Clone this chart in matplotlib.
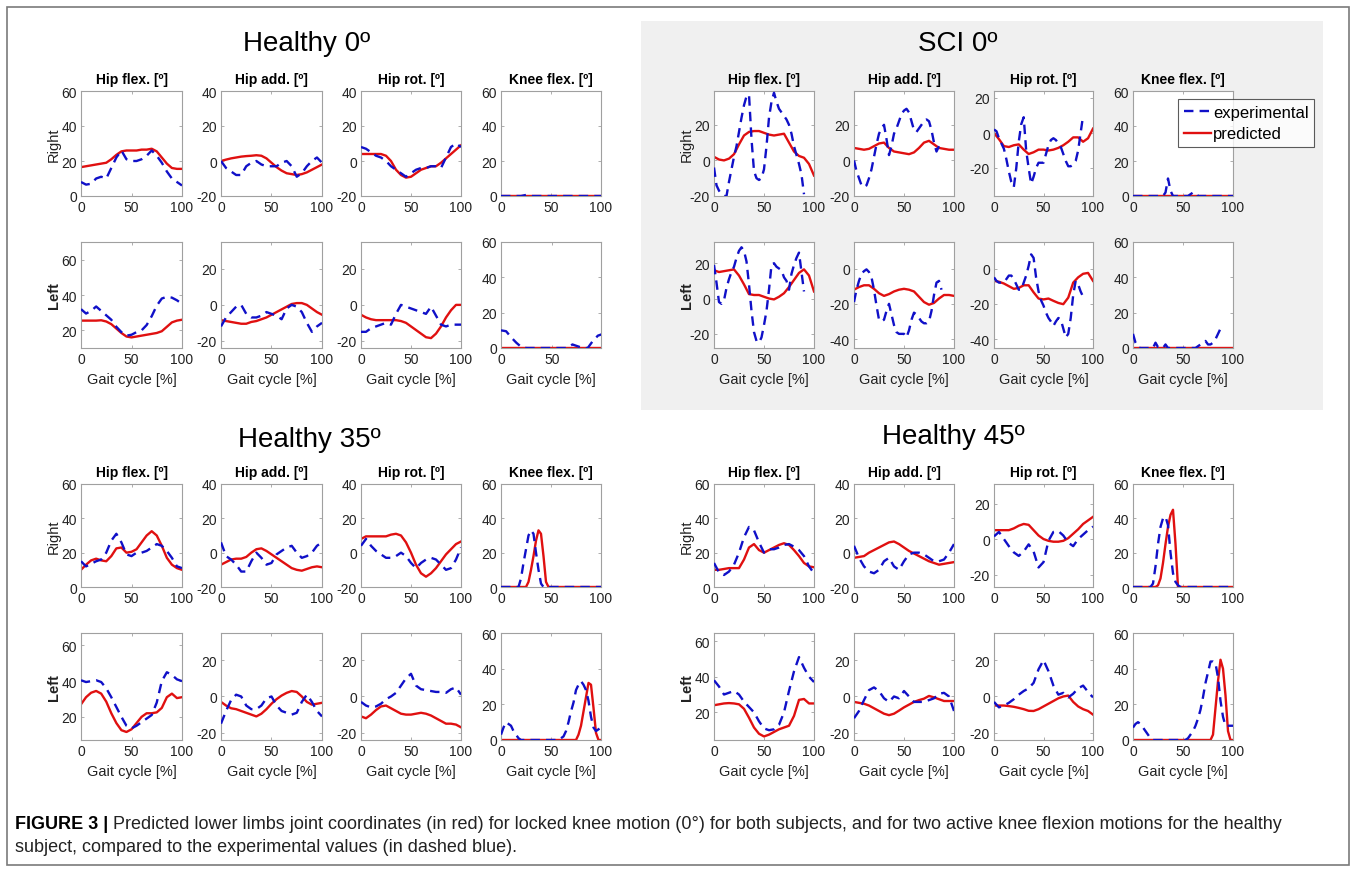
import numpy as np
import matplotlib
matplotlib.use("Agg")
import matplotlib.pyplot as plt
from matplotlib.patches import Rectangle
from matplotlib.ticker import MultipleLocator

plt.rcParams["font.family"] = ["Liberation Sans", "DejaVu Sans"]
plt.rcParams["axes.unicode_minus"] = False

W, H = 1357, 870

# --------------------------------------------------------------------------- #
# Labels
# --------------------------------------------------------------------------- #
JOINTS = ["Hip flex. [\u00ba]", "Hip add. [\u00ba]", "Hip rot. [\u00ba]", "Knee flex. [\u00ba]"]
SIDES = ["Right", "Left"]
PANEL_TITLES = ["Healthy 0\u00ba", "SCI 0\u00ba", "Healthy 35\u00ba", "Healthy 45\u00ba"]
XLABEL = "Gait cycle [%]"
SERIES = ["experimental", "predicted"]
XTICKS = [0, 50, 100]
CAPTION_HEAD = "FIGURE 3 |"
CAPTION_1 = ("Predicted lower limbs joint coordinates (in red) for locked knee motion (0\u00b0) "
             "for both subjects, and for two active knee flexion motions for the healthy")
CAPTION_2 = "subject, compared to the experimental values (in dashed blue)."

# --------------------------------------------------------------------------- #
# Data: joint angle [deg] over gait cycle; 21 values -> every 5 %, 41 -> every 2.5 %
# order in each list: hip flex, hip add, hip rot, knee flex
# --------------------------------------------------------------------------- #
H0_RIGHT_EXP = [
    [8, 6.5, 7, 10, 11, 10, 16, 22, 26, 21, 20, 20, 21, 23, 26, 23, 19, 14, 10, 8, 6],
    [0, -4, -6, -8, -8, -3, -1, 0, -2, -3, -3, -3, -1, 0, -3, -9, -7, -3, 0, 2, -1],
    [8, 7, 5, 3, 2, 0, -3, -5, -7, -9, -7, -5, -4, -4, -3, -3, -4, 2, 8, 10, 8],
    [0, 0, 0, 0, 0, 0.6, 0, 0, 0, 0, 0, 0, 0, 0, 0, 0, 0, 0, 0, 0, 0],
]
H0_RIGHT_PRED = [
    [16.5, 17, 17.5, 18, 18.5, 19, 21, 23.5, 25.5, 26, 26, 26, 26.5, 26.5, 27, 25.5, 22, 18.5, 16, 15.5, 15.5],
    [0, 0.8, 1.5, 2, 2.5, 2.8, 3, 3.3, 3, 1.5, -1, -3.5, -5.5, -7, -7.5, -8, -7.5, -6.5, -5, -3.5, -2],
    [4, 4, 4, 4, 4, 3, 0, -5, -8, -9.5, -9, -7, -5, -4, -3, -3, -1, 1.5, 4, 6.5, 9],
    [0] * 21,
]
H0_LEFT_EXP = [
    [32, 29.5, 31, 33.5, 31, 28.5, 26, 22, 19, 17, 17.5, 19, 20, 23, 28, 34, 38, 39, 38.5, 37, 35],
    [-12, -7, -4, -1, 0, -5, -7, -7, -6, -4, -5, -6, -8, -2, 0, -1, -4, -10, -15, -12, -10],
    [-15, -15, -13, -12, -11, -10, -11, -5, 0, -1, -2, -3, -4, -5, -1, -6, -11, -12, -11, -11, -11],
    [10, 9.5, 6, 3, 0.5, 0, 0, 0, 0, 0, 0, 0, 0, 0, 2, 1, 0, 0, 4, 7, 8],
]
H0_LEFT_PRED = [
    [25.5, 25.5, 25.5, 25.5, 25.7, 25, 23.5, 21, 18.5, 16.5, 16, 16.5, 17, 17.5, 18, 18.5, 19.5, 22, 24.5, 25.5, 26],
    [-8.5, -9, -9.5, -10, -10.5, -10.5, -9.5, -9, -8, -7, -5.5, -4, -2.5, -1, 0.5, 1, 1, 0, -2, -4, -5.5],
    [-5.5, -7, -8, -8.5, -8.5, -8.5, -8.5, -8.5, -9, -10, -12, -14, -16, -18, -18.5, -16, -12, -7, -3, 0, 0],
    [0] * 21,
]

SCI_RIGHT_EXP = [
    [-4, -14, -17, -19, -20, -20, -12, -5, 2, 8, 16, 24, 31, 36, 37, 12, -6, -10, -11, -10,
     -5, 8, 24, 33, 38, 33, 29, 27, 25, 23, 20, 15, 8, 3, -2, -8, -19, None, None, None, None],
    [0, -6, -10, -14, -15, -14, -10, -5, 2, 9, 15, 18, 20, 12, 3, 8, 15, 18, 22, 26,
     28, 29, 27, 22, 17, 16, 18, 20, 22, 23, 22, 17, 10, 5, 8, 11, None, None, None, None, None],
    [2, 1, -3, -6, -9, -15, -22, -28, -31, -20, -5, 5, 9, -10, -20, -29, -25, -20, -17, -17,
     -17, -12, -7, -4, -3, -4, -6, -8, -12, -16, -19, -19, -18, -16, -10, 0, 10, None, None, None, None],
    [0, 0, 0, 0, 0, 0, 0, 0, 0, 0, 0, 0, 0, 2, 10, 3, 0, 0, 0, 0,
     0, 0, 0, 1, 2, 2, 0, 0, 0, 0, 0, 0, 0, 0, 0, 0, 0, 0, 0, 0, 0],
]
SCI_RIGHT_PRED = [
    [2, 0.5, 0, 1, 3.5, 9, 14, 16, 16.5, 16.5, 15.5, 14.5, 14, 14.5, 15, 10, 5, 2.5, 1.5, -2, -8.5],
    [7, 6.5, 6, 6.5, 8, 9.5, 10, 7, 5, 4.5, 4, 3.5, 4.5, 7, 10, 11, 9, 7, 6.5, 6, 6],
    [0, -3.5, -7.5, -8, -7, -6.5, -9.5, -12, -11, -9.5, -9.5, -10, -9.5, -8.5, -7, -5, -2.5, -2.5, -5, -3, 2.5],
    [0] * 21,
]
SCI_LEFT_EXP = [
    [19, 9, -2, -3, -1, 6, 11, 15, 18, 23, 27, 29, 27, 21, 8, -7, -19, -24, -25, -22,
     -15, -7, 5, 19, 20, 18, 17, 16, 12, 10, 5, 14, 19, 23, 26, 15, 4, None, None, None, None],
    [-19, -12, -7, -3, -1.5, -0.5, -2, -5, -12, -21, -29, -30, -29, -24, -20, -26, -32, -36, -37, -37,
     -37, -39, -35, -29, -25, -26, -28, -30, -31, -31, -30, -24, -15, -8, -7, -12, None, None, None, None, None],
    [-5, -7, -8, -8, -8, -6, -4, -4, -6, -9, -12, -12, -8, -4, 1.5, 8, 6, -5, -13, -18,
     -21, -25, -28, -30, -32.5, -30, -28, -29, -34, -39, -37, -28, -15, -7, -9, -13, -16, None, None, None, None],
    [8, 3, 0.5, 0, 0, 0, 0, 0, 0, 3, 0.5, 0, 0, 2, 0, 0, 0, 0, 0, 0,
     0, 0, 0, 0, 0, 0, 1, 2, 3, 4, 2, 2, 3, 5, 8, 11, None, None, None, None, None],
]
SCI_LEFT_PRED = [
    [16, 15, 15.5, 16, 16.5, 13, 8, 2.5, 2, 2, 1, 0, -0.5, 1, 3, 6.5, 10.5, 14.5, 16.5, 13, 4],
    [-12, -10.5, -9.5, -9.5, -11.5, -14, -15.5, -14.5, -13, -12, -11.5, -12, -13, -16, -19, -20.5, -19.5, -17, -15, -15, -15.5],
    [-7, -7.5, -8.5, -10, -11.5, -11, -9.5, -9.5, -13.5, -17, -17.5, -17, -18.3, -19.5, -20.2, -16.5, -8, -5, -3, -2.5, -7],
    [0] * 21,
]

H35_RIGHT_EXP = [
    [15, 12, 13.5, 15, 16, 20, 27, 31, 26, 19, 18, 20, 20, 21, 23, 25, 24, 21, 17, 12, 11],
    [6, -2, -4, -7, -11, -11, -5, 0, -3, -7, -6, -1, 1, 3, 4, 0, -3, -2, 0, 4, 6],
    [4, 8, 4, 1, -1, -3, -3, -2, 0, -2, -6, -9, -6, -4, -3, -4, -7, -10, -9, -4, 3],
    [0] * 8 + [5, 14, 22, 30, 33, 31, 20, 10, 2] + [0] * 24,
]
H35_RIGHT_PRED = [
    [10, 13, 15.5, 16.5, 15.5, 15, 18, 22.5, 23, 20, 20.5, 22, 26, 30, 32.5, 30, 24, 17, 13, 11, 10],
    [-7, -5.5, -4, -3.5, -3.5, -2.5, 0, 2, 2.5, 1, -1, -3, -5, -7, -9, -10, -10.5, -9.5, -8.5, -8, -8.5],
    [8, 9.5, 9.5, 9.5, 9.5, 9.5, 10.5, 11, 10, 6, 0, -7, -12, -14, -12, -9, -5, -1, 2, 5, 6.5],
    [0] * 11 + [3, 10, 18, 27, 33, 31, 18, 3, 0] + [0] * 21,
]
H35_LEFT_EXP = [
    [40.5, 39.5, 40, 40.5, 39.5, 36, 31, 25.5, 20, 15, 13.5, 15, 17, 19, 21, 28, 40, 45, 43.5, 41, 40],
    [-15, -8, -2, 1, 0, -5, -7, -7, -5, -1, 0, -5, -8, -9, -10, -9, -3, 1, -3, -8, -11],
    [-3, -5, -6, -5.5, -4, -1.5, 0, 2, 6, 10, 12.5, 6, 4, 3.5, 3, 2.5, 2.5, 2, 4, 5, 1],
    [3, 7, 10, 9, 8, 5, 3, 1] + [0] * 16
    + [1, 2, 5, 10, 16, 21, 28, 31, 33, 31, 28, 22, 13, 7, 5, 6, 7],
]
H35_LEFT_PRED = [
    [27, 31, 33.5, 34.5, 33, 28.5, 22, 16.5, 12.5, 11.5, 13, 16.5, 20, 22, 22, 22.5, 25, 31, 33, 30.5, 31],
    [-3, -5, -6.5, -7, -8, -9, -10, -11, -9.5, -7, -4, -1.5, 0.5, 2, 3, 2.5, 0, -3, -4.5, -4, -3.5],
    [-11, -12, -10, -7.5, -5.5, -5, -6.5, -8, -9.5, -10, -10, -9.5, -9, -9.5, -10.5, -12, -13.5, -15, -15, -15.5, -17],
    [0] * 30 + [0, 3, 8, 16, 24, 32, 31, 18, 4, 0, 0],
]

H45_RIGHT_EXP = [
    [14, 8.5, 7, 9, 13, 20, 29, 35, 33, 26, 20, 22, 22, 23, 24.5, 25, 23.5, 21.5, 18, 12, 8],
    [4, -3, -8, -11, -12, -10, -5, -3, -8, -10, -5, -1, 0, 0, -1, -3, -5, -5, -4, 0, 5],
    [1.5, 4, 0, -4, -7.5, -9.5, -7, -3, -7, -16, -13, -1, 4, 4.5, 2, -2, -4, 0, 2.5, 5, 7],
    [0] * 8 + [2, 12, 25, 35, 40, 41, 36, 20, 8, 3, 1] + [0] * 22,
]
H45_RIGHT_PRED = [
    [10, 10, 10.5, 11, 11, 11, 16, 23, 25, 21.5, 20, 21.5, 23, 24.5, 25.5, 24.5, 21.5, 18, 14, 12, 11.5],
    [-3, -2.5, -2, 0, 1.5, 3, 4.5, 6, 6.5, 5, 3, 1, -0.5, -2, -3.5, -5, -6, -7, -6.5, -6, -5.5],
    [5, 5, 5, 5, 6, 7.5, 8.5, 8, 5, 2, 0, -1, -1.5, -1.5, -1, 0.5, 3, 5.5, 8.5, 10.5, 12.5],
    [0] * 10 + [1, 5, 14, 25, 35, 42, 45, 25, 0] + [0] * 22,
]
H45_LEFT_EXP = [
    [38, 34.5, 30, 31, 32, 30, 26, 23, 20, 15, 11, 10, 10.5, 13, 20, 32, 43, 51, 45, 40, 37],
    [-12, -8, -2, 3.5, 5, 3, -1, -3, 0, -1, 3, 0, -3, -3, -3, -2, -1, 1.5, 2, 0, -8],
    [-3, -6, -5, -3.5, -1.5, 1, 3, 4.5, 7.5, 15, 20, 14, 6, 1, 2, -0.5, 1.5, 4.5, 6, 2.5, -0.5],
    [7, 9, 10, 9, 7, 5, 3, 1] + [0] * 14
    + [1, 3, 5, 8, 12, 17, 24, 32, 38, 44, 44, 43, 35, 22, 13, 8, 8, 8, 8],
]
H45_LEFT_PRED = [
    [24, 24.5, 25, 25.2, 25, 24.5, 22, 17, 11.5, 8, 6.5, 7.5, 9, 10.5, 11.5, 12.5, 18, 27, 27.5, 25, 25],
    [-3, -3.5, -4, -5, -6.5, -8, -9.5, -10.3, -9.5, -7.8, -6, -4.5, -3, -2, -1.2, 0.3, -0.5, -1.5, -2.5, -2.5, -2.5],
    [-5, -5, -5, -5.3, -5.7, -6.3, -7, -7.9, -8, -7, -5.5, -4, -2.5, -1, 0, 0.5, -3, -5.5, -7, -8, -10],
    [0] * 32 + [3, 18, 33, 45, 40, 25, 5, 0, 0],
]

# y-axis ranges of each panel, [right row, left row]
H0_YLIM = [[(0, 60), (-20, 40), (-20, 40), (0, 60)], [(10, 70), (-24, 35), (-24, 35), (0, 60)]]
SCI_YLIM = [[(-20, 39), (-20, 39), (-36, 24), (0, 60)], [(-28, 32), (-45, 15), (-45, 15), (0, 60)]]
H35_YLIM = [[(0, 60), (-20, 40), (-20, 40), (0, 60)], [(7, 67), (-24, 35), (-24, 35), (0, 60)]]
H45_YLIM = [[(0, 60), (-20, 40), (-27, 31), (0, 60)], [(4.5, 64.5), (-24, 35), (-24, 35), (0, 60)]]

# --------------------------------------------------------------------------- #
# Style / layout (pixel boxes of the 1357x870 canvas)
# --------------------------------------------------------------------------- #
BLUE = "#1010c8"
RED = "#e01010"
SPINE = "#a0a0a0"
COLS_LEFT = [(81, 182), (221, 322), (361, 461), (501, 601)]
COLS_RIGHT = [(714, 814), (854, 954), (994, 1093), (1133, 1233)]
ROWS_TOP = [(92, 197), (243, 349)]
ROWS_BOTTOM = [(485, 588), (634, 741)]


def px_axes(fig, l, t, r, b):
    ax = fig.add_axes([l / W, 1 - b / H, (r - l) / W, (b - t) / H])
    ax.set_zorder(2)
    return ax


def gait(vals):
    return np.linspace(0, 100, len(vals))


def draw_panel(fig, title, title_xy, cols, rows, exp, pred, ylims, last_knee_xmax=100,
               legend=False):
    fig.text(title_xy[0] / W, 1 - title_xy[1] / H, title, ha="center", va="center",
             fontsize=20)
    for i, (t, b) in enumerate(rows):
        for j, (l, r) in enumerate(cols):
            ax = px_axes(fig, l, t, r, b)
            e = np.array(exp[i][j], dtype=float)
            p = np.array(pred[i][j], dtype=float)
            ax.plot(gait(p), p, color=RED, lw=1.7, zorder=2, label=SERIES[1])
            ax.plot(gait(e), e, color=BLUE, lw=1.7, dashes=(4, 2.6), zorder=3,
                    label=SERIES[0])
            ax.set_ylim(*ylims[i][j])
            xmax = last_knee_xmax if (i == 1 and j == 3) else 100
            ax.set_xlim(0, xmax)
            ax.set_xticks([v for v in XTICKS if v <= xmax])
            ax.yaxis.set_major_locator(MultipleLocator(20))
            ax.set_facecolor("white")
            for s in ax.spines.values():
                s.set_color(SPINE)
                s.set_linewidth(0.8)
            ax.tick_params(direction="in", length=2.5, width=0.6, color=SPINE,
                           top=True, right=True, labelsize=10, pad=3,
                           labelcolor="#222222")
            if i == 0:
                ax.set_title(JOINTS[j], fontsize=10, fontweight="bold", pad=6)
            else:
                ax.set_xlabel(XLABEL, fontsize=10.5, labelpad=4, color="#222222")
            if j == 0:
                ax.set_ylabel(SIDES[i], fontsize=10.5, color="#222222",
                              fontweight="normal" if i == 0 else "bold")
                ax.yaxis.set_label_coords(-0.2, 0.5)
            if legend and i == 0 and j == 3:
                h, lab = ax.get_legend_handles_labels()
                leg = ax.legend(h[::-1], lab[::-1], loc="upper left",
                                bbox_to_anchor=(1178 / W, 1 - 100 / H),
                                bbox_transform=fig.transFigure, fontsize=12,
                                frameon=True, fancybox=False, handlelength=1.6,
                                handletextpad=0.15, borderpad=0.35, labelspacing=0.4,
                                borderaxespad=0)
                leg.get_frame().set_edgecolor("#333333")
                leg.get_frame().set_linewidth(0.8)
                leg.set_zorder(10)


def main():
    fig = plt.figure(figsize=(W / 100, H / 100), dpi=100)

    # outer frame and grey SCI background
    fig.patches.append(Rectangle((7 / W, 1 - 866 / H), (1349 - 7) / W, (866 - 8) / H,
                                 transform=fig.transFigure, fill=False,
                                 edgecolor="#7a7a7a", lw=1.2, zorder=-1))
    fig.patches.append(Rectangle((641 / W, 1 - 411 / H), (1323 - 641) / W, (411 - 22) / H,
                                 transform=fig.transFigure, facecolor="#f0f0f0",
                                 edgecolor="none", zorder=-1))

    draw_panel(fig, PANEL_TITLES[0], (307, 44), COLS_LEFT, ROWS_TOP,
               [H0_RIGHT_EXP, H0_LEFT_EXP], [H0_RIGHT_PRED, H0_LEFT_PRED], H0_YLIM,
               last_knee_xmax=98)
    draw_panel(fig, PANEL_TITLES[1], (958, 44), COLS_RIGHT, ROWS_TOP,
               [SCI_RIGHT_EXP, SCI_LEFT_EXP], [SCI_RIGHT_PRED, SCI_LEFT_PRED], SCI_YLIM,
               legend=True)
    draw_panel(fig, PANEL_TITLES[2], (309, 440), COLS_LEFT, ROWS_BOTTOM,
               [H35_RIGHT_EXP, H35_LEFT_EXP], [H35_RIGHT_PRED, H35_LEFT_PRED], H35_YLIM)
    draw_panel(fig, PANEL_TITLES[3], (953, 437), COLS_RIGHT, ROWS_BOTTOM,
               [H45_RIGHT_EXP, H45_LEFT_EXP], [H45_RIGHT_PRED, H45_LEFT_PRED], H45_YLIM)

    # caption: bold head + regular text
    cap_font = ["Liberation Sans", "DejaVu Sans"]
    head = fig.text(15 / W, 1 - 825 / H, CAPTION_HEAD, fontsize=13, fontweight="bold",
                    va="center", family=cap_font)
    bb = head.get_window_extent(renderer=fig.canvas.get_renderer())
    fig.text(bb.x1 / W + 5 / W, 1 - 825 / H, CAPTION_1, fontsize=13, va="center",
             family=cap_font, color="#222222")
    fig.text(15 / W, 1 - 848 / H, CAPTION_2, fontsize=13, va="center",
             family=cap_font, color="#222222")

    fig.savefig("out.png", dpi=100)


if __name__ == "__main__":
    main()
